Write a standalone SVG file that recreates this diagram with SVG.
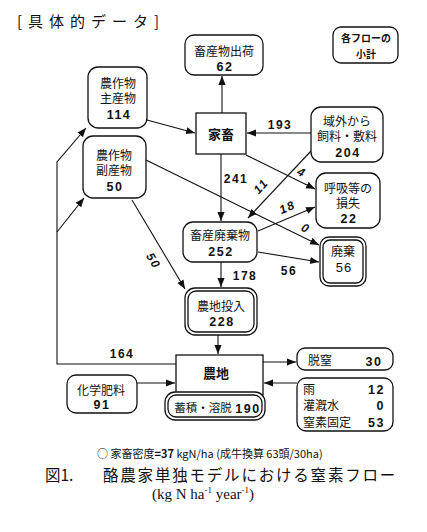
<svg xmlns="http://www.w3.org/2000/svg" width="427" height="532" viewBox="0 0 427 532">
<style>
.bx{fill:#fff;stroke:#111;stroke-width:1.3}
.ln{fill:none;stroke:#111;stroke-width:1.1}
.t{font-family:"Noto Sans CJK JP","Noto Sans",sans-serif;font-size:12px;fill:#111;text-anchor:middle}
.n{font-family:"Liberation Sans",Arial,sans-serif;font-weight:bold;font-size:12.5px;letter-spacing:1.5px;fill:#111;text-anchor:middle}
.fl{font-family:"Liberation Sans",Arial,sans-serif;font-weight:bold;font-size:12px;letter-spacing:1.5px;fill:#111;text-anchor:middle}
.b{font-weight:bold}
.l{text-anchor:start}
.r{text-anchor:end}
</style>
<defs>
<marker id="ah" viewBox="0 0 10 10" refX="10" refY="5" markerWidth="9" markerHeight="9" markerUnits="userSpaceOnUse" orient="auto">
<path d="M0,1 L10,5 L0,9 Z" fill="#111"/>
</marker>
</defs>
<rect width="427" height="532" fill="#fff"/>
<text x="17" y="27" font-family="'Noto Sans CJK JP',sans-serif" font-size="15" letter-spacing="6" fill="#111">[具体的データ]</text>

<g id="connectors" class="ln">
<path d="M176,364 H57 V162 L86,128" marker-end="url(#ah)"/>
<path d="M57,232 L84,198" marker-end="url(#ah)"/>
<path d="M147,120 L195,133" marker-end="url(#ah)"/>
<path d="M222,113 V76" marker-end="url(#ah)"/>
<path d="M311,133 H247" marker-end="url(#ah)"/>
<path d="M221,154 V221" marker-end="url(#ah)"/>
<path d="M246,155 L315,189" marker-end="url(#ah)"/>
<path d="M146,160 L319,245" marker-end="url(#ah)"/>
<path d="M311,151 L248,218" marker-end="url(#ah)"/>
<path d="M258,231 L315,207" marker-end="url(#ah)"/>
<path d="M258,252 L319,262" marker-end="url(#ah)"/>
<path d="M221,262 V287" marker-end="url(#ah)"/>
<path d="M132,200 L185,289" marker-end="url(#ah)"/>
<path d="M218,335 V354" marker-end="url(#ah)"/>
<path d="M263,362 H296" marker-end="url(#ah)"/>
<path d="M297,383 H264" marker-end="url(#ah)"/>
<path d="M137,383 H175" marker-end="url(#ah)"/>
</g>

<g id="flow-labels">
<text class="fl" x="280" y="129">193</text>
<text class="fl" x="236" y="183">241</text>
<text class="fl" x="245" y="280">178</text>
<text class="fl" x="289" y="275">56</text>
<text class="fl" x="122" y="358">164</text>
<text class="fl" transform="translate(264,189) rotate(-48)" style="font-style:italic">11</text>
<text class="fl" transform="translate(300,176) rotate(27)" style="font-style:italic">4</text>
<text class="fl" transform="translate(289,211) rotate(-24)" style="font-style:italic">18</text>
<text class="fl" transform="translate(304,232) rotate(26)" style="font-style:italic">0</text>
<text class="fl" transform="translate(150,263) rotate(58)" style="font-style:italic">50</text>
</g>

<g id="shukka">
<rect class="bx" x="185" y="35" width="78" height="40" rx="9"/>
<text class="t" x="224" y="56">畜産物出荷</text>
<text class="n" x="225" y="71">62</text>
</g>

<g id="shokei">
<rect class="bx" x="333" y="27" width="65" height="36" rx="8"/>
<text class="t b" x="366" y="42" style="font-size:10px">各フローの</text>
<text class="t b" x="366" y="58" style="font-size:10px">小計</text>
</g>

<g id="shusanbutsu">
<rect class="bx" x="88" y="67" width="59" height="61" rx="10"/>
<text class="t" x="118" y="88">農作物</text>
<text class="t" x="118" y="103">主産物</text>
<text class="n" x="119" y="119">114</text>
</g>

<g id="kachiku">
<rect class="bx" x="196" y="113" width="50" height="41" rx="0"/>
<text class="t b" x="221" y="139" style="font-size:13px">家畜</text>
</g>

<g id="ikigai">
<rect class="bx" x="311" y="107" width="72" height="55" rx="10"/>
<text class="t" x="347" y="126">域外から</text>
<text class="t" x="347" y="141">飼料・敷料</text>
<text class="n" x="348" y="157">204</text>
</g>

<g id="fukusanbutsu">
<rect class="bx" x="83" y="136" width="63" height="62" rx="10"/>
<text class="t" x="114" y="160">農作物</text>
<text class="t" x="114" y="175">副産物</text>
<text class="n" x="115" y="191">50</text>
</g>

<g id="kokyu">
<rect class="bx" x="316" y="173" width="64" height="55" rx="10"/>
<text class="t" x="348" y="193">呼吸等の</text>
<text class="t" x="348" y="208">損失</text>
<text class="n" x="349" y="223">22</text>
</g>

<g id="haikibutsu">
<rect class="bx" x="183" y="222" width="74" height="40" rx="10"/>
<text class="t" x="220" y="240">畜産廃棄物</text>
<text class="n" x="221" y="256">252</text>
</g>

<g id="haiki">
<rect class="bx" x="320" y="237" width="46" height="49" rx="9"/>
<rect class="bx" x="323" y="240" width="40" height="43" rx="7"/>
<text class="t" x="343" y="256">廃棄</text>
<text class="n" x="344" y="272" style="font-weight:normal;font-size:13px;letter-spacing:1px">56</text>
</g>

<g id="nochitonyu">
<rect class="bx" x="185" y="288" width="72" height="47" rx="10"/>
<rect class="bx" x="188" y="291" width="66" height="41" rx="8"/>
<text class="t" x="221" y="311">農地投入</text>
<text class="n" x="222" y="326">228</text>
</g>

<g id="nochi">
<rect class="bx" x="176" y="355" width="87" height="40" rx="0"/>
<text class="t b" x="216" y="378" style="font-size:13px">農地</text>
</g>

<g id="chikuseki">
<rect class="bx" x="165" y="392" width="100" height="28" rx="10"/>
<rect class="bx" x="168" y="395" width="94" height="22" rx="8"/>
<text class="t" x="203" y="412" style="font-size:11.5px">蓄積・溶脱</text>
<text class="n" x="248" y="413">190</text>
</g>

<g id="dacchitsu">
<rect class="bx" x="297" y="348" width="96" height="22" rx="8"/>
<text class="t" x="320" y="365">脱窒</text>
<text class="n" x="374" y="366">30</text>
</g>

<g id="ame">
<rect class="bx" x="297" y="378" width="96" height="53" rx="9"/>
<text class="t l" x="303" y="394">雨</text>
<text class="n r" x="385" y="394">12</text>
<text class="t l" x="303" y="410">灌漑水</text>
<text class="n r" x="385" y="410">0</text>
<text class="t l" x="303" y="427">窒素固定</text>
<text class="n r" x="385" y="427">53</text>
</g>

<g id="kagakuhiryo">
<rect class="bx" x="67" y="375" width="70" height="38" rx="9"/>
<text class="t" x="101" y="395">化学肥料</text>
<text class="n" x="102" y="409">91</text>
</g>

<text x="97" y="458" font-family="'Noto Sans CJK JP',sans-serif" font-size="11" fill="#111">○ 家畜密度<tspan font-weight="bold">=37</tspan> kgN/ha (成牛換算 63頭/30ha)</text>
<text x="45" y="481" font-family="'Noto Sans CJK JP',serif" font-size="15.5" fill="#111">図1. <tspan x="103" letter-spacing="1.8">酪農家単独モデルにおける窒素フロー</tspan></text>
<text x="152" y="499" font-family="'Liberation Serif',serif" font-size="15" fill="#111">(kg N ha<tspan dy="-6" font-size="9">-1</tspan><tspan dy="6"> year</tspan><tspan dy="-6" font-size="9">-1</tspan><tspan dy="6">)</tspan></text>
</svg>
